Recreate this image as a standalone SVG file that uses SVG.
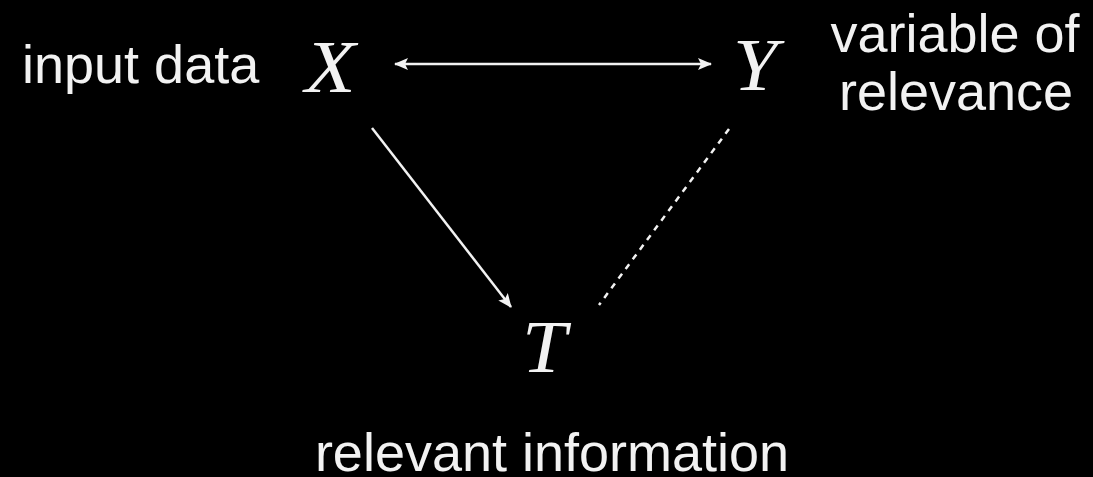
<svg xmlns="http://www.w3.org/2000/svg" width="1093" height="477" viewBox="0 0 1093 477">
<defs>
<style>
.lbl{font-family:"Liberation Sans",Arial,sans-serif;font-size:54px;fill:#f2f2f2}
.var{font-family:"Liberation Serif","Times New Roman",serif;font-style:italic;font-size:74px;fill:#f2f2f2}
.edge{stroke:#f2f2f2;stroke-width:2.5;fill:none}
</style>
<marker id="ah" viewBox="0 0 14 12" refX="13" refY="6" markerWidth="14" markerHeight="12" markerUnits="userSpaceOnUse" orient="auto-start-reverse">
<path d="M0,0 L14,6 L0,12 L3,6 Z" fill="#f2f2f2"/>
</marker>
</defs>
<rect width="1093" height="477" fill="#000"/>
<g id="connectors">
<line class="edge" x1="395" y1="64" x2="711" y2="64" marker-start="url(#ah)" marker-end="url(#ah)"/>
<line class="edge" x1="372" y1="128" x2="511" y2="307" marker-end="url(#ah)"/>
<line class="edge" x1="729" y1="129" x2="599" y2="305" stroke-width="3.5" stroke-dasharray="6 6"/>
</g>
<g id="node-X">
<text class="var" transform="translate(305,92) scale(1.12,1)">X</text>
<text class="lbl" x="22" y="83">input data</text>
</g>
<g id="node-Y">
<text class="var" transform="translate(733,90) scale(1.08,1)">Y</text>
<text class="lbl" x="955" y="52" text-anchor="middle">variable of</text>
<text class="lbl" x="956" y="110" text-anchor="middle">relevance</text>
</g>
<g id="node-T">
<text class="var" transform="translate(522,372) scale(1.08,1)">T</text>
<text class="lbl" x="552" y="471" text-anchor="middle">relevant information</text>
</g>
</svg>
